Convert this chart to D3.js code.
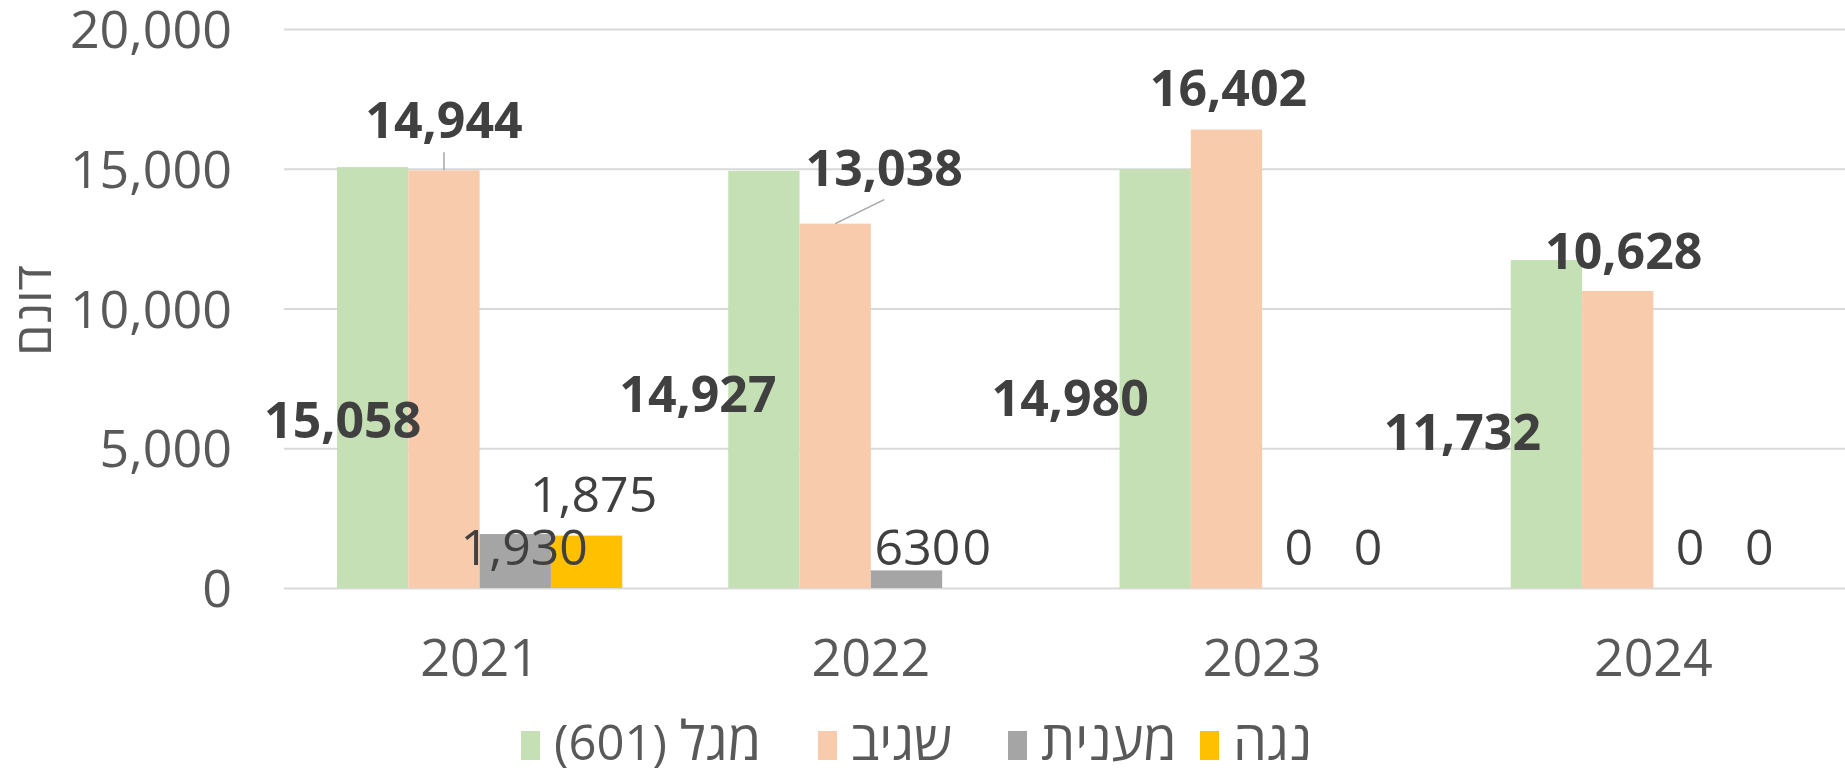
<!DOCTYPE html>
<html>
<head>
<meta charset="utf-8">
<script src="https://cdn.jsdelivr.net/npm/d3@7"></script>
<style>
  body { margin: 0; background: #fff; }
  text { font-family: "Open Sans", "Liberation Sans", "DejaVu Sans", sans-serif; }
</style>
</head>
<body>
<div id="chart-area"></div>
<script>
// Data
var years = ["2021", "2022", "2023", "2024"];
var seriesNames = ["מגל (601)", "שגיב", "מענית", "נגה"];
var magalValues = [15058, 14927, 14980, 11732];
var sagivValues = [14944, 13038, 16402, 10628];
var maanitValues = [1930, 630, 0, 0];
var nogaValues = [1875, 0, 0, 0];
var yTicks = [0, 5000, 10000, 15000, 20000];
var yTitle = "דונם";

var seriesValues = [magalValues, sagivValues, maanitValues, nogaValues];
var colors = ["#C5E0B4", "#F8CBAD", "#A5A5A5", "#FFC000"];
var boldLabels = [true, true, false, false];

// label offsets (dx from bar centre, dy from bar top) - labels were moved by hand in the original
var labelOffsets = [
    [[-30, 253], [-66, 223], [-85, 229], [-84, 172]],
    [[0, -50], [49, -56], [2, -42], [6, -40]],
    [[9, 13], [11, -23], [1, -41], [1, -41]],
    [[7, -42], [-1, -41], [-1, -41], [-1, -41]]
];
var leaderLines = [
    [false, false, false, false],
    [true, true, false, false],
    [false, false, false, false],
    [false, false, false, false]
];
// legend swatch left edges
var legendX = [521, 818, 1008, 1200];

var margin = { left: 284, right: 0, top: 29, bottom: 182 },
    width = 1845 - margin.left - margin.right,
    height = 770 - margin.top - margin.bottom;

var svg = d3.select("#chart-area").append("svg")
    .attr("width", 1845)
    .attr("height", 770);

var g = svg.append("g")
    .attr("transform", "translate(" + margin.left + "," + margin.top + ")");

// Scales
var x0 = d3.scaleBand()
    .domain(years)
    .range([0, width + 4])
    .paddingInner(0.271)
    .paddingOuter(0.1355);
var x1 = d3.scaleBand()
    .domain(d3.range(seriesNames.length))
    .range([0, x0.bandwidth()]);
var y = d3.scaleLinear()
    .domain([0, 20000])
    .range([height, 0]);

// Gridlines
g.append("g")
    .attr("class", "grid")
    .call(d3.axisLeft(y).tickValues(yTicks).tickSize(-width).tickFormat(""))
    .call(function(s) {
        s.select(".domain").remove();
        s.selectAll("line").attr("stroke", "#d9d9d9").attr("stroke-width", 2);
    });

// Y axis labels
g.append("g")
    .attr("class", "y axis")
    .attr("transform", "translate(-52,0)")
    .call(d3.axisLeft(y).tickValues(yTicks).tickSize(0).tickFormat(d3.format(",")))
    .call(function(s) {
        s.select(".domain").remove();
        s.selectAll("text")
            .attr("fill", "#595959")
            .attr("font-size", "52px")
            .attr("x", 0)
            .attr("dy", "0.36em");
    });

// X axis labels
g.append("g")
    .attr("class", "x axis")
    .attr("transform", "translate(0," + height + ")")
    .call(d3.axisBottom(x0).tickSize(0))
    .call(function(s) {
        s.select(".domain").remove();
        s.selectAll("text")
            .attr("fill", "#595959")
            .attr("font-size", "52px")
            .attr("y", 69)
            .attr("dy", "0.36em");
    });

// Y axis title
svg.append("text")
    .attr("transform", "translate(33," + (margin.top + y(10000) + 2) + ") rotate(-90)")
    .attr("text-anchor", "middle")
    .attr("dy", "0.36em")
    .attr("fill", "#595959")
    .attr("font-size", "50px")
    .text(yTitle);

// Bars
var groups = g.selectAll(".year")
    .data(years)
    .enter().append("g")
    .attr("class", "year")
    .attr("transform", function(d) { return "translate(" + x0(d) + ",0)"; });

groups.each(function(year, yi) {
    var grp = d3.select(this);
    seriesValues.forEach(function(vals, si) {
        var v = vals[yi];
        if (v > 0) {
            grp.append("rect")
                .attr("x", x1(si))
                .attr("y", y(v))
                .attr("width", x1.bandwidth())
                .attr("height", height - y(v))
                .attr("fill", colors[si]);
        }
    });
});

// Data labels
groups.each(function(year, yi) {
    var grp = d3.select(this);
    seriesValues.forEach(function(vals, si) {
        var v = vals[yi];
        var cx = x1(si) + x1.bandwidth() / 2;
        var off = labelOffsets[si][yi];
        var lx = cx + off[0], ly = y(v) + off[1];
        if (leaderLines[si][yi]) {
            grp.append("line")
                .attr("x1", cx).attr("y1", y(v))
                .attr("x2", lx).attr("y2", ly + 32)
                .attr("stroke", "#a6a6a6")
                .attr("stroke-width", 1.5);
        }
        grp.append("text")
            .attr("x", lx)
            .attr("y", ly)
            .attr("dy", "0.36em")
            .attr("text-anchor", "middle")
            .attr("fill", "#404040")
            .attr("font-size", "50px")
            .attr("font-weight", boldLabels[si] ? "bold" : "normal")
            .text(d3.format(v >= 1000 ? "," : "d")(v));
    });
});

// Legend
var legend = svg.append("g")
    .attr("class", "legend")
    .attr("transform", "translate(0,746)");
seriesNames.forEach(function(name, i) {
    legend.append("rect")
        .attr("x", legendX[i])
        .attr("y", -15)
        .attr("width", 19)
        .attr("height", 29)
        .attr("fill", colors[i]);
    var t = legend.append("text")
        .attr("x", legendX[i] + 33)
        .attr("y", 14)
        .attr("font-size", "54px")
        .attr("fill", "#595959")
        .attr("direction", "rtl")
        .attr("text-anchor", "end");
    // hebrew glyphs are drawn a little larger than digits, as in the original font
    name.split(/([\u0590-\u05FF]+)/).filter(function(p) { return p.length; })
        .forEach(function(part) {
            t.append("tspan")
                .attr("font-size", /[\u0590-\u05FF]/.test(part) ? "54px" : "49px")
                .text(part);
        });
});
</script>
</body>
</html>
